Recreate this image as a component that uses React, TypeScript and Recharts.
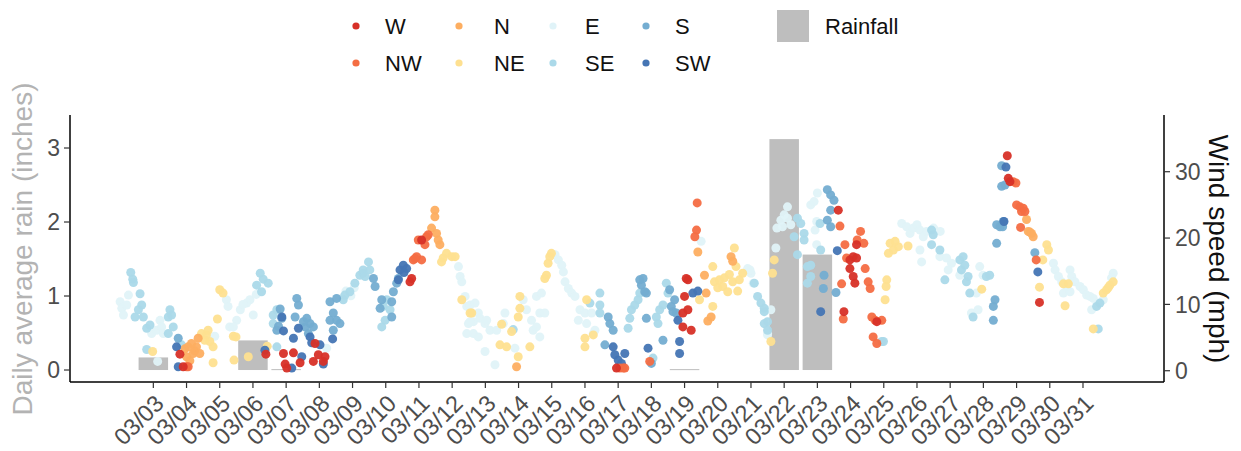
import { ComposedChart, Bar, Scatter, XAxis, YAxis } from 'recharts';

const FONT = "'Liberation Sans', Arial, sans-serif";

// daily rainfall (inches), bar centred on the day
const rainDays = [3, 6, 7, 19, 22, 23];
const rainInches = [0.17, 0.4, 0.012, 0.012, 3.12, 1.56];

// day-of-month ticks on the x axis
const tickDays = [3, 4, 5, 6, 7, 8, 9, 10, 11, 12, 13, 14, 15, 16, 17, 18, 19, 20, 21, 22, 23, 24, 25, 26, 27, 28, 29, 30, 31];

// wind observations: [day (fractional), speed mph], one list per direction
const windW = [
  [3.8, 2.5], [3.9, 0.6], [6.39, 2.5], [6.92, 2.6], [7.22, 2.7], [6.97, 1.0], [7.42, 1.2], [7.02, 0.4],
  [7.87, 4.1], [7.82, 1.4], [7.97, 2.4], [8.17, 2.1], [8.12, 1.4], [10.78, 13.9], [10.73, 13.4], [11.08, 19.7],
  [16.95, 0.4], [18.95, 8.7], [19.0, 11.2], [19.05, 13.9], [19.1, 9.2], [19.2, 6.1], [18.95, 6.6], [19.1, 13.7],
  [23.63, 24.2], [23.8, 8.9], [23.98, 16.7], [24.08, 17.2], [24.18, 17.0], [23.98, 15.4], [24.08, 14.2],
  [24.13, 13.2], [24.18, 19.0], [24.79, 7.4], [28.72, 32.4], [28.75, 29.0], [28.8, 28.5], [29.69, 10.3],
];
const windNW = [
  [4.05, 0.6], [4.0, 0.6], [10.83, 16.7], [10.93, 17.2], [11.08, 16.7], [10.98, 19.7], [11.18, 19.0],
  [11.23, 20.2], [11.28, 20.5], [10.88, 16.9], [17.05, 0.4], [17.15, 0.4], [17.2, 0.4], [17.95, 1.4],
  [19.38, 25.3], [19.36, 21.2], [19.31, 20.2], [23.68, 21.8], [23.83, 19.0], [23.73, 13.1], [23.78, 7.8],
  [24.2, 19.7], [24.3, 21.0], [24.4, 19.2], [23.88, 17.0], [24.44, 15.4], [24.53, 13.4], [24.59, 12.4],
  [24.64, 8.1], [24.74, 7.6], [24.68, 5.1], [24.79, 4.1], [24.94, 7.6], [28.9, 28.5], [28.98, 28.3],
  [29.0, 25.0], [29.1, 24.7], [29.2, 24.5], [29.15, 24.0], [29.25, 24.0], [29.12, 21.6], [29.59, 16.7],
];
const windN = [
  [3.95, 3.3], [4.05, 3.6], [4.0, 2.1], [4.1, 1.5], [4.2, 2.6], [4.25, 3.0], [4.3, 3.6], [4.4, 2.6],
  [4.15, 4.1], [4.35, 4.9], [11.48, 24.2], [11.48, 23.2], [11.38, 21.5], [11.53, 20.7], [11.63, 19.0],
  [11.58, 19.7], [13.94, 0.6], [19.4, 17.9], [19.6, 14.4], [19.65, 11.7], [19.7, 7.5], [19.8, 8.1],
  [20.4, 17.2], [20.45, 16.5], [29.3, 22.8], [29.35, 21.0], [29.4, 20.9], [29.45, 20.7], [29.5, 20.2],
];
const windNE = [
  [2.98, 2.9], [4.45, 5.6], [4.6, 5.4], [4.7, 4.4], [4.55, 4.6], [4.8, 3.6], [4.65, 6.1], [4.8, 1.2],
  [5.0, 12.2], [5.1, 11.7], [4.93, 7.8], [5.41, 5.2], [5.49, 5.1], [5.43, 1.6], [5.86, 2.1], [6.43, 3.7],
  [11.73, 17.0], [11.83, 17.7], [11.99, 17.2], [11.68, 16.4], [12.09, 17.2], [12.29, 10.7], [12.59, 8.7],
  [12.54, 8.7], [13.44, 3.9], [13.64, 3.6], [13.49, 7.0], [13.79, 5.9], [13.99, 2.1], [14.04, 11.2],
  [14.04, 9.4], [13.99, 8.1], [14.34, 3.6], [14.79, 13.9], [14.84, 14.4], [14.89, 16.2], [14.94, 17.2],
  [14.99, 17.7], [16.05, 10.7], [16.0, 4.9], [16.0, 3.6], [16.25, 5.4], [19.45, 10.7], [19.85, 15.7],
  [19.9, 13.4], [20.0, 12.5], [20.05, 13.7], [20.15, 12.7], [20.2, 14.0], [20.3, 11.9], [20.35, 14.5],
  [20.45, 13.4], [20.5, 18.5], [20.55, 15.7], [20.6, 12.0], [20.65, 13.7], [20.75, 14.7], [19.85, 9.7],
  [21.6, 4.4], [21.7, 16.7], [21.65, 14.7], [25.19, 19.2], [25.29, 18.2], [25.14, 17.7], [25.44, 18.7],
  [25.34, 19.5], [25.73, 18.8], [25.09, 13.7], [25.07, 12.7], [25.04, 10.7], [27.95, 12.3], [29.69, 12.6],
  [29.79, 16.7], [29.91, 19.0], [29.96, 18.2], [30.41, 13.1], [30.56, 13.1], [30.46, 9.8], [31.31, 6.3],
  [31.61, 11.7], [31.71, 12.2], [31.76, 12.5], [31.81, 12.9], [31.91, 13.4],
];
const windE = [
  [2.0, 10.4], [2.05, 9.4], [2.1, 8.4], [2.25, 11.4], [2.2, 9.9], [2.95, 5.6], [3.1, 6.1], [3.2, 7.6],
  [3.25, 6.6], [3.3, 5.6], [3.13, 1.4], [4.85, 5.2], [5.2, 10.7], [5.25, 9.7], [5.3, 6.6], [5.91, 10.7],
  [5.62, 9.2], [6.01, 8.4], [5.51, 7.6], [5.41, 6.6], [5.81, 10.2], [5.7, 10.0], [6.1, 11.5], [8.22, 3.4],
  [8.8, 12.0], [8.95, 11.3], [9.05, 12.5], [8.7, 11.0], [12.19, 15.7], [12.24, 14.2], [12.29, 13.4],
  [12.39, 11.2], [12.44, 9.7], [12.54, 9.9], [12.69, 10.2], [12.49, 7.1], [12.64, 7.4], [12.79, 8.7],
  [12.84, 7.9], [12.99, 7.1], [13.14, 6.1], [12.64, 5.6], [12.99, 2.9], [12.44, 5.6], [12.54, 7.4],
  [12.79, 5.1], [13.29, 0.9], [13.04, 7.6], [13.34, 6.1], [13.59, 8.7], [13.54, 7.1], [13.89, 3.4],
  [14.14, 10.7], [14.24, 9.2], [14.39, 7.6], [14.44, 6.1], [14.54, 6.6], [14.64, 5.1], [14.54, 11.2],
  [14.69, 11.7], [14.64, 8.7], [14.79, 8.7], [15.1, 17.5], [15.2, 16.7], [15.3, 15.9], [15.35, 14.9],
  [15.4, 13.4], [15.5, 12.4], [15.6, 11.7], [15.7, 11.2], [15.85, 9.2], [15.8, 7.6], [16.0, 8.7],
  [16.05, 7.1], [16.2, 8.7], [16.25, 5.6], [16.3, 6.1], [19.5, 19.5], [20.9, 15.4], [21.0, 14.7],
  [20.97, 15.2], [21.07, 13.2], [21.5, 5.6], [21.6, 9.2], [21.5, 5.4], [21.75, 18.5], [21.78, 21.5],
  [21.9, 22.7], [22.0, 23.5], [22.1, 23.0], [22.1, 24.7], [22.2, 22.0], [21.95, 21.7], [22.8, 25.0],
  [22.9, 25.5], [23.0, 26.8], [22.98, 22.5], [22.98, 19.0], [22.93, 21.2], [25.54, 22.2], [25.69, 21.7],
  [25.79, 20.7], [25.89, 21.5], [26.0, 22.0], [26.09, 21.2], [26.19, 20.2], [26.29, 21.0], [26.5, 21.5],
  [26.7, 21.0], [26.09, 18.2], [26.14, 16.4], [26.69, 17.2], [26.89, 17.0], [27.04, 16.2], [26.94, 15.2],
  [27.29, 14.4], [27.89, 15.7], [27.99, 14.4], [27.79, 11.7], [27.64, 8.7], [27.84, 9.2], [30.11, 16.2],
  [30.16, 15.2], [30.26, 14.2], [30.36, 13.4], [30.51, 12.7], [30.61, 15.2], [30.66, 14.2], [30.76, 13.4],
  [30.91, 12.7], [31.01, 12.2], [31.11, 11.4], [31.21, 11.2], [31.31, 10.9], [31.26, 9.2], [30.41, 11.7],
  [30.61, 11.9], [31.61, 10.7], [31.91, 14.7], [31.86, 14.0],
];
const windSE = [
  [2.32, 14.8], [2.38, 13.8], [2.4, 13.3], [2.6, 11.6], [2.65, 9.9], [2.45, 8.1], [2.55, 9.2], [2.7, 8.1],
  [2.8, 6.4], [2.9, 6.9], [3.5, 9.2], [3.45, 8.1], [3.55, 8.4], [3.6, 6.6], [3.45, 5.6], [2.8, 3.2],
  [3.85, 3.9], [6.22, 14.7], [6.31, 13.8], [6.26, 11.9], [6.11, 12.9], [6.46, 13.2], [6.61, 8.4],
  [6.72, 9.2], [6.61, 7.1], [6.72, 3.6], [8.77, 11.4], [8.92, 11.9], [9.07, 13.2], [9.22, 14.4],
  [9.32, 14.7], [8.72, 10.7], [9.48, 16.4], [9.32, 15.2], [9.52, 15.2], [9.38, 14.2], [9.93, 9.7],
  [9.98, 7.6], [9.88, 6.6], [10.03, 10.7], [10.13, 9.2], [13.84, 6.2], [16.15, 10.2], [16.45, 11.7],
  [16.45, 9.9], [16.45, 8.7], [17.3, 6.4], [17.35, 7.9], [17.4, 9.2], [17.5, 9.9], [17.6, 10.7],
  [17.65, 11.7], [18.05, 1.9], [18.15, 8.1], [18.2, 7.1], [18.25, 9.2], [18.35, 9.9], [18.45, 13.2],
  [18.5, 11.7], [21.1, 13.2], [21.2, 11.2], [21.3, 10.2], [21.4, 9.4], [21.5, 7.4], [21.4, 8.9],
  [21.4, 7.1], [21.5, 6.1], [22.4, 23.0], [22.5, 22.2], [22.3, 20.2], [22.6, 20.7], [22.6, 19.7],
  [22.4, 17.5], [23.08, 22.2], [23.1, 18.2], [22.7, 15.7], [22.8, 14.2], [22.8, 15.9], [22.7, 13.2],
  [24.94, 4.4], [24.99, 4.4], [26.44, 21.2], [26.49, 20.5], [26.44, 19.0], [26.69, 18.2], [26.84, 13.7],
  [27.29, 16.7], [27.39, 17.2], [27.44, 15.9], [27.34, 15.2], [27.54, 14.2], [27.49, 13.4], [27.59, 11.7],
  [27.69, 8.1], [28.09, 14.2], [28.19, 14.4], [31.41, 9.7], [31.51, 10.2], [31.46, 6.3],
];
const windS = [
  [3.75, 4.9], [6.82, 9.3], [6.87, 7.9], [6.72, 6.1], [6.77, 6.7], [7.32, 10.9], [7.37, 9.9], [7.27, 8.1],
  [7.62, 7.9], [7.72, 7.1], [7.67, 5.6], [7.82, 6.6], [7.57, 6.6], [7.52, 7.4], [8.32, 10.4], [8.52, 10.9],
  [8.42, 8.7], [8.32, 7.6], [8.52, 7.6], [8.62, 7.1], [8.42, 6.1], [9.63, 13.9], [9.68, 12.7], [9.88, 10.7],
  [9.83, 9.4], [10.18, 10.4], [10.23, 11.9], [10.18, 8.1], [10.33, 13.2], [10.38, 13.9], [16.6, 3.9],
  [16.7, 8.1], [16.75, 7.1], [16.85, 6.1], [17.7, 12.9], [17.75, 13.9], [17.8, 11.9], [17.85, 11.7],
  [17.65, 13.7], [17.85, 7.9], [18.0, 1.1], [18.35, 4.6], [18.55, 12.2], [18.6, 9.7], [18.7, 10.7],
  [18.65, 8.9], [18.75, 8.7], [23.3, 27.3], [23.4, 26.5], [23.5, 25.7], [23.4, 24.2], [23.3, 22.7],
  [23.4, 21.7], [23.2, 14.4], [23.18, 12.4], [23.56, 11.8], [28.4, 19.2], [28.3, 9.7], [28.35, 10.7],
  [28.3, 7.6], [28.4, 22.0], [28.5, 21.7], [28.55, 30.9], [28.55, 27.8], [28.6, 22.5], [28.58, 21.7],
  [29.55, 17.8], [28.65, 28.0],
];
const windSW = [
  [3.75, 0.6], [3.7, 3.6], [6.36, 3.1], [6.87, 8.1], [6.92, 6.0], [7.22, 4.9], [7.37, 6.4], [7.17, 0.4],
  [7.47, 2.1], [7.72, 5.1], [7.77, 4.2], [8.02, 3.9], [8.4, 4.8], [8.12, 1.0], [10.43, 15.2], [10.53, 15.9],
  [10.63, 15.4], [10.38, 13.7], [10.55, 14.8], [16.85, 3.6], [16.9, 2.4], [17.0, 1.6], [17.2, 2.6],
  [17.1, 1.1], [17.9, 3.4], [18.8, 7.6], [18.85, 4.4], [18.85, 2.6], [19.25, 11.7], [19.4, 12.0],
  [23.1, 8.9], [23.6, 18.1], [28.62, 22.5], [28.68, 30.7], [29.64, 14.9],
];

const DIRS = [
  { name: 'E', color: '#e0f3f8', pts: windE },
  { name: 'SE', color: '#abd9e9', pts: windSE },
  { name: 'NE', color: '#fee090', pts: windNE },
  { name: 'N', color: '#fdae61', pts: windN },
  { name: 'S', color: '#74add1', pts: windS },
  { name: 'SW', color: '#4575b4', pts: windSW },
  { name: 'NW', color: '#f46d43', pts: windNW },
  { name: 'W', color: '#d73027', pts: windW },
];

const legendRows = [
  ['W', 'N', 'E', 'S'],
  ['NW', 'NE', 'SE', 'SW'],
];
const colorOf = (n: string) => DIRS.find((d) => d.name === n)!.color;

const rainData = rainDays.map((day, i) => ({ day, rain: rainInches[i] }));

const fmtDay = (d: number) => `03/${String(d).padStart(2, '0')}`;

const BAR_W = 29.5;

function DateTick({ x, y, payload }: any) {
  const tx = x + 12;
  const ty = y + 17;
  return (
    <text
      x={tx}
      y={ty}
      transform={`rotate(-45 ${tx} ${ty})`}
      textAnchor="end"
      fontSize={23.5}
      fontFamily={FONT}
      fill="#4d4d4d"
    >
      {fmtDay(payload.value)}
    </text>
  );
}

// numeric x axis gives a hairline band, so draw the day-wide bar around its centre
function RainBar(p: any) {
  const cx = p.x + p.width / 2;
  return <rect x={cx - BAR_W / 2} y={p.y} width={BAR_W} height={Math.max(p.height, 1)} fill="#bebebe" />;
}

const dot = (color: string) => (p: any) => (
  <circle cx={p.cx} cy={p.cy} r={4.5} fill={color} fillOpacity={0.95} />
);

export default function App() {
  const legendX = [356, 459, 553, 646];
  const textX = [385, 494, 585, 675];
  const rowY = [26, 63];
  return (
    <div style={{ position: 'absolute', left: 0, top: 0, width: 1241, height: 451, background: '#fff' }}>
      <ComposedChart
        width={1241}
        height={451}
        data={rainData}
        margin={{ top: 115, right: 0, bottom: 0, left: 0 }}
      >
        <XAxis
          dataKey="day"
          type="number"
          domain={[0.49, 33.44]}
          ticks={tickDays}
          interval={0}
          allowDataOverflow
          height={69}
          tickSize={6}
          tickMargin={0}
          tick={<DateTick />}
          axisLine={{ stroke: '#000', strokeWidth: 1.5 }}
          tickLine={{ stroke: '#333', strokeWidth: 1.2 }}
        />
        <YAxis
          yAxisId="rain"
          orientation="left"
          type="number"
          domain={[-0.162, 3.446]}
          ticks={[0, 1, 2, 3]}
          allowDataOverflow
          width={70}
          tickSize={6}
          tickMargin={4}
          tick={{ fill: '#4d4d4d', fontSize: 23, fontFamily: FONT }}
          axisLine={{ stroke: '#000', strokeWidth: 1.5 }}
          tickLine={{ stroke: '#333', strokeWidth: 1.2 }}
        />
        <YAxis
          yAxisId="wind"
          orientation="right"
          type="number"
          domain={[-1.7, 38.55]}
          ticks={[0, 10, 20, 30]}
          allowDataOverflow
          width={77}
          tickSize={6}
          tickMargin={5}
          tick={{ fill: '#4d4d4d', fontSize: 23, fontFamily: FONT, textAnchor: 'start' }}
          axisLine={{ stroke: '#000', strokeWidth: 1.5 }}
          tickLine={{ stroke: '#333', strokeWidth: 1.2 }}
        />
        <Bar
          yAxisId="rain"
          dataKey="rain"
          fill="#bebebe"
          shape={RainBar}
          isAnimationActive={false}
        />
        {DIRS.map((d) => (
          <Scatter
            key={d.name}
            yAxisId="wind"
            name={d.name}
            data={d.pts.map(([day, speed]) => ({ day, speed }))}
            dataKey="speed"
            shape={dot(d.color)}
            isAnimationActive={false}
          />
        ))}
      </ComposedChart>
      <svg
        width={1241}
        height={451}
        style={{ position: 'absolute', left: 0, top: 0, pointerEvents: 'none' }}
        fontFamily={FONT}
      >
        <text
          x={22}
          y={249}
          transform="rotate(-90 22 249)"
          textAnchor="middle"
          dominantBaseline="central"
          fontSize={28}
          fill="#b3b3b3"
        >
          Daily average rain (inches)
        </text>
        <text
          x={1218}
          y={249}
          transform="rotate(90 1218 249)"
          textAnchor="middle"
          dominantBaseline="central"
          fontSize={28}
          fill="#111"
        >
          Wind speed (mph)
        </text>
        {legendRows.map((row, r) =>
          row.map((name, c) => (
            <g key={name}>
              <circle cx={legendX[c]} cy={rowY[r]} r={3.6} fill={colorOf(name)} />
              <text x={textX[c]} y={rowY[r]} dominantBaseline="central" fontSize={22} fill="#111">
                {name}
              </text>
            </g>
          ))
        )}
        <rect x={777} y={10} width={32} height={32} fill="#bebebe" />
        <text x={825} y={26} dominantBaseline="central" fontSize={22} fill="#111">
          Rainfall
        </text>
      </svg>
    </div>
  );
}
